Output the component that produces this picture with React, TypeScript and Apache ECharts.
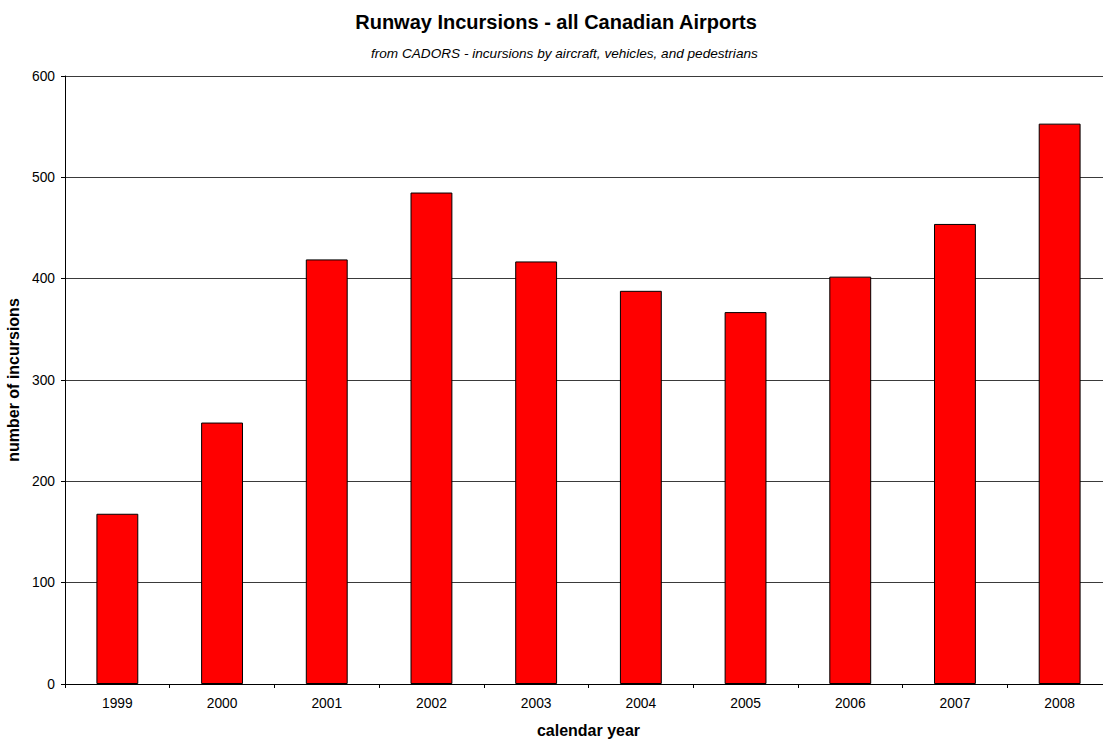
import React, { useEffect, useRef } from "react";
import * as echarts from "echarts";

const years = ["1999", "2000", "2001", "2002", "2003", "2004", "2005", "2006", "2007", "2008"];
const incursions = [168, 258, 419, 485, 417, 388, 367, 402, 454, 553];
const yTicks = { min: 0, max: 600, interval: 100 };

export default function App() {
  const ref = useRef<HTMLDivElement>(null);
  useEffect(() => {
    if (!ref.current) return;
    const chart = echarts.init(ref.current, null, { renderer: "svg" });
    const font = "'Liberation Sans', Arial, sans-serif";
    chart.setOption({
      animation: false,
      backgroundColor: "#ffffff",
      title: [
        {
          text: "Runway Incursions - all Canadian Airports",
          left: "center",
          top: 7,
          textStyle: { fontFamily: font, fontSize: 20, fontWeight: "bold", color: "#000" },
        },
        {
          text: "from CADORS - incursions by aircraft, vehicles, and pedestrians",
          left: 366,
          top: 41,
          textStyle: { fontFamily: font, fontSize: 13.6, fontStyle: "italic", fontWeight: "normal", color: "#000" },
        },
      ],
      grid: { left: 65, right: 0, top: 76, bottom: 56, containLabel: false, outerBoundsMode: "none" },
      xAxis: {
        type: "category",
        data: years,
        name: "calendar year",
        nameLocation: "middle",
        nameGap: 38,
        nameTextStyle: { fontFamily: font, fontSize: 16, fontWeight: "bold", color: "#000" },
        axisLine: { lineStyle: { color: "#000", width: 1 } },
        axisTick: { show: true, length: 4, inside: false, alignWithLabel: false, lineStyle: { color: "#000" } },
        axisLabel: { fontFamily: font, fontSize: 13.8, color: "#000", margin: 12 },
        splitLine: { show: false },
      },
      yAxis: {
        type: "value",
        min: yTicks.min,
        max: yTicks.max,
        interval: yTicks.interval,
        name: "number of incursions",
        nameLocation: "middle",
        nameGap: 38,
        nameTextStyle: { fontFamily: font, fontSize: 16, fontWeight: "bold", color: "#000" },
        axisLine: { show: true, lineStyle: { color: "#000", width: 1 } },
        axisTick: { show: true, length: 4, lineStyle: { color: "#000" } },
        axisLabel: { fontFamily: font, fontSize: 13.8, color: "#000", margin: 10 },
        splitLine: { show: true, lineStyle: { color: "#3a3a3a", width: 1 } },
      },
      series: [
        {
          type: "bar",
          data: incursions,
          barWidth: "40%",
          itemStyle: { color: "#ff0000", borderColor: "#000", borderWidth: 1 },
        },
      ],
    });
    return () => chart.dispose();
  }, []);
  return (
    <div style={{ position: "fixed", left: 0, top: 0, width: 1103, height: 740, overflow: "hidden", background: "#fff" }}>
      <div ref={ref} style={{ position: "absolute", left: 0, top: 0, width: 1112, height: 740 }} />
    </div>
  );
}
